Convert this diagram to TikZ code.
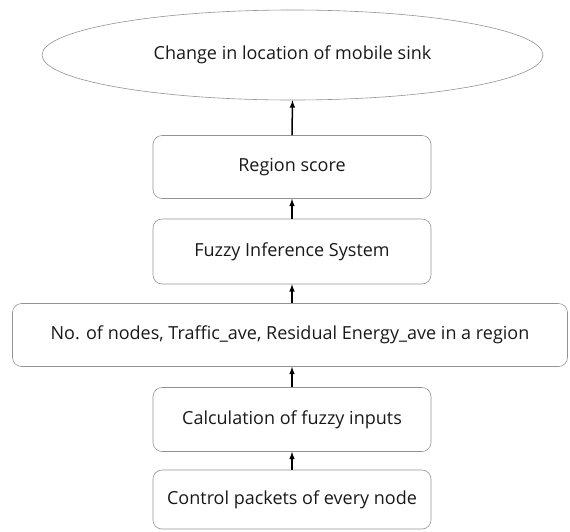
\documentclass[tikz,border=0pt]{standalone}
\usepackage{fontspec}
\setmainfont{Open Sans}
\usepackage{tikz}
\usetikzlibrary{arrows,shapes.geometric}
\tikzset{%
  stepnode/.style = {shape=rectangle, rounded corners=9pt,%
                     draw=gray!85, align=center, text=black!90,%
                     minimum width=278pt, minimum height=63pt},%
  widenode/.style = {stepnode, minimum width=555pt},%
  goal/.style     = {ellipse, draw=gray!85, text=black!90,%
                     minimum width=501pt, minimum height=90pt},%
  up/.style       = {-latex, line width=1.5pt}%
}

\begin{document}
\begin{tikzpicture}
[x=1pt,y=-1pt,every node/.style = {font=\fontsize{18}{21}\selectfont, inner sep=0pt, line width=0.6pt}]
	\useasboundingbox (0,0) rectangle (570,531);
	\node [goal] (sink) at (292.5,55) {Change in location of mobile sink};
	\node [stepnode] (score) at (292,167) {Region score};
	\node [stepnode,minimum height=65pt] (fis) at (292,251.5) {Fuzzy Inference System};
	\node [widenode] (inputs) at (290,335) {No. of nodes, Traffic\_ave, Residual Energy\_ave in a region};
	\node [stepnode,minimum height=64pt] (calc) at (292,419.5) {Calculation of fuzzy inputs};
	\node [stepnode,minimum height=59pt] (ctrl) at (292,499.5) {Control packets of every node};
	% arrows going up
	\draw [up] (ctrl.north) -- (calc.south);
	\draw [up] (calc.north) -- (inputs.south -| calc.north);
	\draw [up] (inputs.north -| fis.south) -- (fis.south);
	\draw [up] (fis.north) -- (score.south);
	\draw [up] (score.north) -- (sink.south);
\end{tikzpicture}
\end{document}
